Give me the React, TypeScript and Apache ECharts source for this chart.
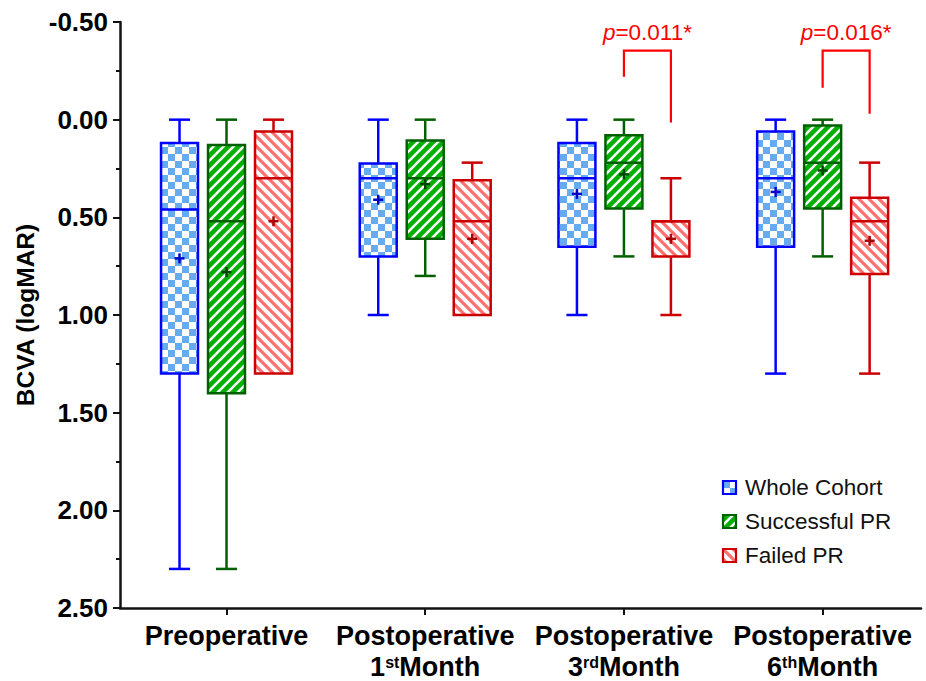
import React, { useEffect, useRef } from 'react';
import * as echarts from 'echarts';

// ---------------- data ----------------
const catMain = ['Preoperative', 'Postoperative', 'Postoperative', 'Postoperative'];
const catOrd = ['', '1', '3', '6'];
const catSup = ['', 'st', 'rd', 'th'];
const catIndex = [0, 1, 2, 3];

const seriesNames = ['Whole Cohort', 'Successful PR', 'Failed PR'];

// each row: [whiskerTop, Q1, median, Q3, whiskerBottom, mean]  (logMAR)
const wholeCohort = [
  [0.0, 0.12, 0.46, 1.3, 2.3, 0.71],
  [0.0, 0.225, 0.3, 0.7, 1.0, 0.41],
  [0.0, 0.12, 0.3, 0.65, 1.0, 0.38],
  [0.0, 0.06, 0.3, 0.65, 1.3, 0.37],
];
const successfulPR = [
  [0.0, 0.13, 0.52, 1.4, 2.3, 0.78],
  [0.0, 0.107, 0.3, 0.61, 0.8, 0.33],
  [0.0, 0.08, 0.22, 0.455, 0.7, 0.28],
  [0.0, 0.03, 0.22, 0.455, 0.7, 0.26],
];
const failedPR = [
  [0.0, 0.06, 0.3, 1.3, 1.3, 0.52],
  [0.22, 0.31, 0.52, 1.0, 1.0, 0.61],
  [0.3, 0.52, 0.52, 0.7, 1.0, 0.61],
  [0.22, 0.4, 0.52, 0.79, 1.3, 0.62],
];

// significance brackets (between Successful PR and Failed PR)
const bracketCats = [2, 3];
const bracketLeftEnd = [-0.22, -0.164];
const bracketRightEnd = [0.015, -0.03];
const bracketTop = [-0.353, -0.353];
const bracketTextY = [-0.445, -0.445];
const pValues = ['0.011*', '0.016*'];

const yMin = -0.5;
const yMax = 2.5;
const yInterval = 0.5;

// ---------------- styles ----------------
const FONT = '"Liberation Sans", Arial, Helvetica, sans-serif';
const groupOffsets = [-0.2365, 0, 0.2365];
const boxWidth = 0.186;
const capWidth = 0.106;
const borderColors = ['#0000ff', '#006000', '#cc0000'];
const meanColors = ['#0000cc', '#004400', '#aa0000'];

function makePatterns() {
  // checkerboard
  const c1 = document.createElement('canvas');
  c1.width = 14; c1.height = 14;
  const g1 = c1.getContext('2d')!;
  g1.fillStyle = '#ffffff'; g1.fillRect(0, 0, 14, 14);
  g1.fillStyle = '#66aaf0';
  g1.fillRect(0, 0, 7, 7); g1.fillRect(7, 7, 7, 7);

  // green with white "/" stripes
  const c2 = document.createElement('canvas');
  c2.width = 10; c2.height = 10;
  const g2 = c2.getContext('2d')!;
  g2.fillStyle = '#00b000'; g2.fillRect(0, 0, 10, 10);
  g2.strokeStyle = '#ffffff'; g2.lineWidth = 2.6;
  g2.beginPath();
  g2.moveTo(-1, 11); g2.lineTo(11, -1);
  g2.moveTo(-6, 6); g2.lineTo(6, -6);
  g2.moveTo(4, 16); g2.lineTo(16, 4);
  g2.stroke();

  // white with light red "\" stripes
  const c3 = document.createElement('canvas');
  c3.width = 10; c3.height = 10;
  const g3 = c3.getContext('2d')!;
  g3.fillStyle = '#ffffff'; g3.fillRect(0, 0, 10, 10);
  g3.strokeStyle = '#ff7070'; g3.lineWidth = 3.2;
  g3.beginPath();
  g3.moveTo(-1, -1); g3.lineTo(11, 11);
  g3.moveTo(-6, 4); g3.lineTo(6, 16);
  g3.moveTo(4, -6); g3.lineTo(16, 6);
  g3.stroke();

  return [
    { image: c1, repeat: 'repeat', imageWidth: 14, imageHeight: 14 },
    { image: c2, repeat: 'repeat', imageWidth: 10, imageHeight: 10 },
    { image: c3, repeat: 'repeat', imageWidth: 10, imageHeight: 10 },
  ];
}

export default function App() {
  const ref = useRef<HTMLDivElement>(null);

  useEffect(() => {
    if (!ref.current) return;
    const chart = echarts.init(ref.current, undefined, { renderer: 'svg' });
    const patterns = makePatterns();
    const groups = [wholeCohort, successfulPR, failedPR];

    const makeRender = (k: number) => (params: any, api: any) => {
      const cat = api.value(0);
      const x = cat + groupOffsets[k];
      const lo = api.value(1), q1 = api.value(2), med = api.value(3);
      const q3 = api.value(4), hi = api.value(5), mean = api.value(6);
      const pLo = api.coord([x, lo]);
      const pQ1 = api.coord([x, q1]);
      const pMed = api.coord([x, med]);
      const pQ3 = api.coord([x, q3]);
      const pHi = api.coord([x, hi]);
      const pMean = api.coord([x, mean]);
      const halfW = api.size([boxWidth, 0])[0] / 2;
      const capHalf = api.size([capWidth, 0])[0] / 2;
      const cx = pQ1[0];
      const stroke = borderColors[k];
      const lw = 2.5;
      const children: any[] = [];
      if (lo < q1) {
        children.push({ type: 'line', shape: { x1: cx, y1: pLo[1], x2: cx, y2: pQ1[1] }, style: { stroke, lineWidth: lw } });
        children.push({ type: 'line', shape: { x1: cx - capHalf, y1: pLo[1], x2: cx + capHalf, y2: pLo[1] }, style: { stroke, lineWidth: lw } });
      }
      if (hi > q3) {
        children.push({ type: 'line', shape: { x1: cx, y1: pQ3[1], x2: cx, y2: pHi[1] }, style: { stroke, lineWidth: lw } });
        children.push({ type: 'line', shape: { x1: cx - capHalf, y1: pHi[1], x2: cx + capHalf, y2: pHi[1] }, style: { stroke, lineWidth: lw } });
      }
      children.push({
        type: 'rect',
        shape: { x: cx - halfW, y: pQ1[1], width: 2 * halfW, height: pQ3[1] - pQ1[1] },
        style: { fill: patterns[k], stroke, lineWidth: lw },
      });
      children.push({ type: 'line', shape: { x1: cx - halfW, y1: pMed[1], x2: cx + halfW, y2: pMed[1] }, style: { stroke, lineWidth: lw } });
      const m = 5;
      children.push({ type: 'line', shape: { x1: cx - m, y1: pMean[1], x2: cx + m, y2: pMean[1] }, style: { stroke: meanColors[k], lineWidth: 2.5 } });
      children.push({ type: 'line', shape: { x1: cx, y1: pMean[1] - m, x2: cx, y2: pMean[1] + m }, style: { stroke: meanColors[k], lineWidth: 2.5 } });
      return { type: 'group', children };
    };

    const boxSeries = groups.map((g, k) => ({
      type: 'custom',
      name: seriesNames[k],
      renderItem: makeRender(k),
      encode: { x: 0, y: [1, 2, 3, 4, 5] },
      data: g.map((row, i) => [catIndex[i], ...row]),
      clip: false,
      z: 3,
    }));

    const bracketSeries = {
      type: 'custom',
      name: 'brackets',
      renderItem: (params: any, api: any) => {
        const cat = api.value(0);
        const i = params.dataIndex;
        const xl = cat + groupOffsets[1];
        const xr = cat + groupOffsets[2];
        const pTopL = api.coord([xl, api.value(3)]);
        const pTopR = api.coord([xr, api.value(3)]);
        const pL = api.coord([xl, api.value(1)]);
        const pR = api.coord([xr, api.value(2)]);
        const pText = api.coord([(xl + xr) / 2, api.value(4)]);
        const st = { stroke: '#ff0000', lineWidth: 2.2, fill: null };
        return {
          type: 'group',
          children: [
            {
              type: 'polyline',
              shape: { points: [[pL[0], pL[1]], [pTopL[0], pTopL[1]], [pTopR[0], pTopR[1]], [pR[0], pR[1]]] },
              style: st,
            },
            {
              type: 'text',
              x: pText[0],
              y: pText[1],
              style: {
                text: '{i|p}{n|=' + pValues[i] + '}',
                align: 'center',
                verticalAlign: 'middle',
                rich: {
                  i: { fontStyle: 'italic', fontSize: 22.5, fontFamily: FONT, fill: '#ff0000' },
                  n: { fontSize: 22.5, fontFamily: FONT, fill: '#ff0000' },
                },
              },
            },
          ],
        };
      },
      encode: { x: 0, y: [1, 2, 3, 4] },
      data: bracketCats.map((c, i) => [c, bracketLeftEnd[i], bracketRightEnd[i], bracketTop[i], bracketTextY[i]]),
      clip: false,
      z: 4,
    };

    const legendGraphics: any[] = [];
    seriesNames.forEach((name, k) => {
      const y = 481 + k * 34;
      legendGraphics.push({
        type: 'rect',
        x: 723,
        y,
        shape: { x: 0, y: 0, width: 13, height: 13 },
        style: { fill: patterns[k], stroke: borderColors[k], lineWidth: 2.2 },
      });
      legendGraphics.push({
        type: 'text',
        x: 745,
        y: y + 6.5,
        style: { text: name, fontSize: 22.5, fontFamily: FONT, fill: '#111', verticalAlign: 'middle', align: 'left' },
      });
    });

    chart.setOption({
      animation: false,
      backgroundColor: '#ffffff',
      textStyle: { fontFamily: FONT },
      grid: { left: 120, top: 22, width: 801, height: 586, containLabel: false },
      xAxis: {
        type: 'value',
        min: -0.536,
        max: 3.495,
        splitLine: { show: false },
        axisLine: { show: true, onZero: false, lineStyle: { color: '#111', width: 2.5 } },
        axisTick: { show: true, customValues: catIndex, length: 7, lineStyle: { color: '#111', width: 2 } },
        axisLabel: {
          show: true,
          customValues: catIndex,
          margin: 12,
          hideOverlap: false,
          formatter: (v: number) => {
            const i = Math.round(v);
            if (!catOrd[i]) return '{b|' + catMain[i] + '}';
            return '{b|' + catMain[i] + '}\n{b|' + catOrd[i] + '}{s|' + catSup[i] + '}{b|Month}';
          },
          rich: {
            b: { fontSize: 27, fontWeight: 'bold', lineHeight: 31, color: '#000', fontFamily: FONT },
            s: { fontSize: 16, fontWeight: 'bold', lineHeight: 16, verticalAlign: 'top', padding: [3, 0, 0, 0], color: '#000', fontFamily: FONT },
          },
        },
      },
      yAxis: {
        type: 'value',
        inverse: true,
        min: yMin,
        max: yMax,
        interval: yInterval,
        name: 'BCVA (logMAR)',
        nameLocation: 'middle',
        nameGap: 80,
        nameTextStyle: { fontSize: 24.5, fontWeight: 'bold', color: '#000', fontFamily: FONT },
        splitLine: { show: false },
        axisLine: { show: true, onZero: false, lineStyle: { color: '#111', width: 2.5 } },
        axisTick: { show: true, length: 7, lineStyle: { color: '#111', width: 2 } },
        minorTick: { show: true, splitNumber: 2, length: 4, lineStyle: { color: '#111', width: 2 } },
        axisLabel: {
          margin: 12,
          fontSize: 26,
          fontWeight: 'bold',
          color: '#000',
          fontFamily: FONT,
          formatter: (v: number) => v.toFixed(2),
        },
      },
      graphic: legendGraphics,
      series: [...boxSeries, bracketSeries],
    });

    return () => chart.dispose();
  }, []);

  return (
    <div
      ref={ref}
      style={{ position: 'fixed', left: 0, top: 0, width: 926, height: 681, background: '#fff' }}
    />
  );
}
